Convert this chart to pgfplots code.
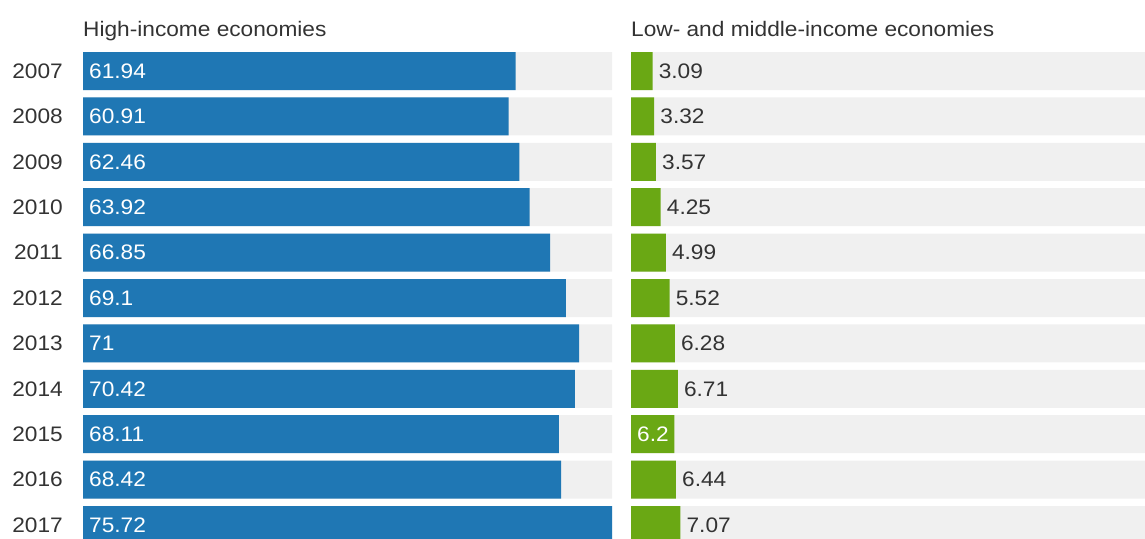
\documentclass[border=0pt]{standalone}
\usepackage{fontspec}
\setmainfont[FakeStretch=1.08]{Liberation Sans}
\usepackage{pgfplots}
\usepackage{pgfplotstable}
\pgfplotsset{compat=1.18}
\definecolor{hiblue}{HTML}{1F77B4}
\definecolor{logreen}{HTML}{6AA814}
\definecolor{bggrey}{HTML}{F0F0F0}
\definecolor{txtgrey}{HTML}{333333}
\pgfplotstableread{
y year high low full
0 2007 61.94 3.09 80
1 2008 60.91 3.32 80
2 2009 62.46 3.57 80
3 2010 63.92 4.25 80
4 2011 66.85 4.99 80
5 2012 69.1 5.52 80
6 2013 71 6.28 80
7 2014 70.42 6.71 80
8 2015 68.11 6.2 80
9 2016 68.42 6.44 80
10 2017 75.72 7.07 80
}\data
\newcommand{\lab}{\fontsize{21}{25}\selectfont}
\pgfplotsset{
  panel/.style={
    scale only axis, height=486pt,
    xmin=0, ymin=-0.4185, ymax=10.286, y dir=reverse,
    axis line style={draw=none}, major tick length=0pt, tick style={draw=none},
    xtick=\empty,
    /pgf/number format/assume math mode=true,
    every axis title shift=0pt,
    title style={at={(0,1)}, anchor=base west, yshift=16pt, inner sep=0pt, font=\lab, text=txtgrey},
    clip=true,
  },
  bgbar/.style={xbar, bar width=38pt, bar shift=0pt, fill=bggrey, draw=none},
  lbl/.style={draw=none, mark=none, nodes near coords, point meta=explicit symbolic,
    every node near coord/.style={anchor=west, inner sep=0pt, xshift=6pt, font=\lab, text=#1}},
}
\begin{document}
\begin{tikzpicture}
\path[use as bounding box] (0pt,0pt) rectangle (1145pt,-538pt);
\begin{axis}[panel, at={(83pt,-52pt)}, anchor=north west, width=529pt, xmax=75.72,
  title={High-income economies},
  ytick={0,...,10}, yticklabels={2007,2008,2009,2010,2011,2012,2013,2014,2015,2016,2017},
  yticklabel style={font=\lab, text=txtgrey, inner sep=0pt, xshift=-20pt}]
\addplot[bgbar] table[x=full, y=y]{\data};
\addplot[xbar, bar width=38pt, bar shift=0pt, fill=hiblue, draw=none] table[x=high, y=y]{\data};
\addplot[lbl=white] table[x expr=0, y=y, meta=high]{\data};
\end{axis}
\begin{axis}[panel, at={(631pt,-52pt)}, anchor=north west, width=514pt, xmax=73.58,
  title={Low- and middle-income economies}, ytick=\empty]
\addplot[bgbar] table[x=full, y=y]{\data};
\addplot[xbar, bar width=38pt, bar shift=0pt, fill=logreen, draw=none] table[x=low, y=y]{\data};
\addplot[lbl=txtgrey, skip coords between index={8}{9}] table[x=low, y=y, meta=low]{\data};
\addplot[lbl=white, skip coords between index={0}{8}, skip coords between index={9}{11}] table[x expr=0, y=y, meta=low]{\data};
\end{axis}
\end{tikzpicture}
\end{document}
